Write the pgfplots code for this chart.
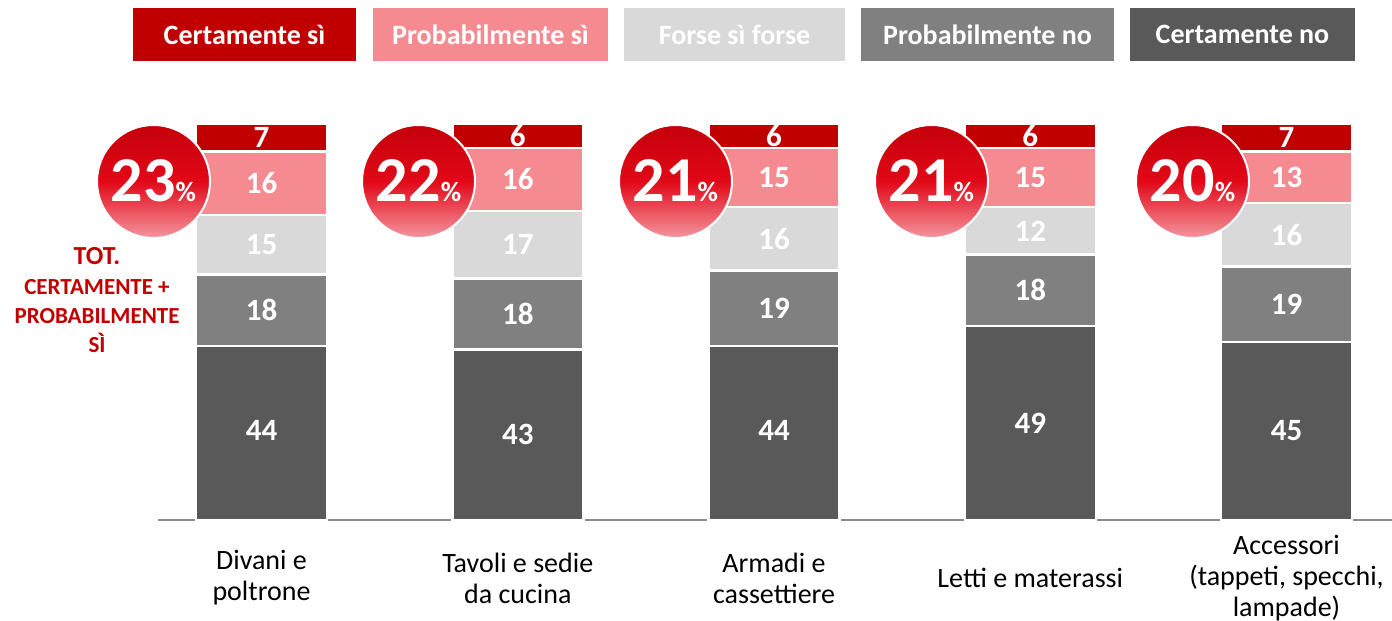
\documentclass[border=0pt]{standalone}
\usepackage{pgfplots}
\pgfplotsset{compat=1.18}
\usepackage{pgfplotstable}
\usepackage{fontspec}
\setmainfont{Carlito}
\definecolor{cCsi}{RGB}{192,0,0}
\definecolor{cPsi}{RGB}{245,139,144}
\definecolor{cForse}{RGB}{217,217,217}
\definecolor{cPno}{RGB}{128,128,128}
\definecolor{cCno}{RGB}{89,89,89}
\definecolor{circTop}{RGB}{196,0,10}
\definecolor{circMid}{RGB}{226,8,24}
\definecolor{circBot}{RGB}{244,150,160}
\definecolor{totred}{RGB}{192,0,0}
\definecolor{axgray}{RGB}{140,140,140}

% segment values (bottom to top)
\pgfplotstableread{
x cno pno forse psi csi
0 44 18 15 16 7
1 43 18 17 16 6
2 44 19 16 15 6
3 49 18 12 15 6
4 45 19 16 13 7
}\datatable

% label positions: middle of each segment
\pgfplotstableread{
x ymid lab
0 22.5 44
0 53   18
0 69.5 15
0 85   16
0 96.5 7
1 21.5 43
1 52   18
1 69.5 17
1 86   16
1 97   6
2 22.5 44
2 53.5 19
2 71   16
2 86.5 15
2 97   6
3 24.5 49
3 58   18
3 73   12
3 86.5 15
3 97   6
4 22.5 45
4 54.5 19
4 72   16
4 86.5 13
4 96.5 7
}\labtable

\tikzset{totcirc/.style={circle, minimum size=56.5pt, inner sep=0pt, top color=circTop, bottom color=circBot, middle color=circMid, draw=white, line width=1pt, text=white, font=\bfseries, text height=20.2pt, text depth=0pt}}

\pgfplotsset{common/.style={
  at={(79pt,50.5pt)}, anchor=south west,
  width=617pt, height=198pt, scale only axis,
  xmin=-0.404, xmax=4.4117, ymin=0, ymax=100, clip=false}}

\begin{document}
\begin{tikzpicture}
\path[use as bounding box] (0,0) rectangle (696pt,310.5pt);
\begin{axis}[
  common,
  ybar stacked, bar width=65.5pt,
  axis x line*=bottom, axis y line=none,
  x axis line style={draw=axgray, line width=0.9pt},
  xtick={0,1,2,3,4},
  xticklabels={{Divani e\\poltrone},{Tavoli e sedie\\da cucina},{Armadi e\\cassettiere},{Letti e materassi},{Accessori\\(tappeti, specchi,\\lampade)}},
  xtick style={draw=none},
  xticklabel style={font=\fontsize{14}{15.5}\selectfont, align=center, anchor=center, yshift=-29pt, text=black},
  ytick=\empty,
]
\addplot[fill=cCno, draw=white, line width=1.25pt] table[x=x, y=cno] {\datatable};
\addplot[fill=cPno, draw=white, line width=1.25pt] table[x=x, y=pno] {\datatable};
\addplot[fill=cForse, draw=white, line width=1.25pt] table[x=x, y=forse] {\datatable};
\addplot[fill=cPsi, draw=white, line width=1.25pt] table[x=x, y=psi] {\datatable};
\addplot[fill=cCsi, draw=white, line width=1.25pt] table[x=x, y=csi] {\datatable};
\end{axis}

\begin{axis}[common, hide axis]
\addplot[draw=none, mark=none, nodes near coords, point meta=explicit symbolic,
  every node near coord/.append style={font=\bfseries\fontsize{15.5}{15.5}\selectfont, text=white, anchor=center, inner sep=0pt}]
  table[x=x, y=ymid, meta=lab] {\labtable};
\node[totcirc] at (axis cs:-0.4215,85.48) {\fontsize{32}{32}\selectfont 23\fontsize{14}{14}\selectfont\%};
\node[totcirc] at (axis cs:0.6127,85.48) {\fontsize{32}{32}\selectfont 22\fontsize{14}{14}\selectfont\%};
\node[totcirc] at (axis cs:1.6156,85.48) {\fontsize{32}{32}\selectfont 21\fontsize{14}{14}\selectfont\%};
\node[totcirc] at (axis cs:2.6146,85.48) {\fontsize{32}{32}\selectfont 21\fontsize{14}{14}\selectfont\%};
\node[totcirc] at (axis cs:3.6332,85.48) {\fontsize{32}{32}\selectfont 20\fontsize{14}{14}\selectfont\%};
\end{axis}

% legend
\node[fill=cCsi, text=white, font=\bfseries\fontsize{14}{14}\selectfont, minimum width=111.5pt, minimum height=26.5pt, inner sep=0pt] at (122.25pt,293.25pt) {Certamente sì};
\node[fill=cPsi, text=white, font=\bfseries\fontsize{14}{14}\selectfont, minimum width=117.5pt, minimum height=26.5pt, inner sep=0pt] at (245.25pt,293.25pt) {Probabilmente sì};
\node[fill=cForse, text=white, font=\bfseries\fontsize{14}{14}\selectfont, minimum width=110.5pt, minimum height=26.5pt, inner sep=0pt] at (367.25pt,293.25pt) {Forse sì forse};
\node[fill=cPno, text=white, font=\bfseries\fontsize{14}{14}\selectfont, minimum width=126.5pt, minimum height=26.5pt, inner sep=0pt] at (493.75pt,293.25pt) {Probabilmente no};
\node[fill=cCno, text=white, font=\bfseries\fontsize{14}{14}\selectfont, minimum width=112.5pt, minimum height=26.5pt, inner sep=0pt] at (621.25pt,293.25pt) {Certamente no};

% side note
\node[anchor=base, text=totred, font=\bfseries\fontsize{13}{13}\selectfont, inner sep=0pt] at (48.5pt,178pt) {TOT.};
\node[anchor=base, text=totred, font=\bfseries\fontsize{11.5}{11.5}\selectfont, inner sep=0pt] at (48.5pt,163pt) {CERTAMENTE +};
\node[anchor=base, text=totred, font=\bfseries\fontsize{11.5}{11.5}\selectfont, inner sep=0pt] at (48.5pt,148.5pt) {PROBABILMENTE};
\node[anchor=base, text=totred, font=\bfseries\fontsize{11.5}{11.5}\selectfont, inner sep=0pt] at (48.5pt,134pt) {SÌ};
\end{tikzpicture}
\end{document}
